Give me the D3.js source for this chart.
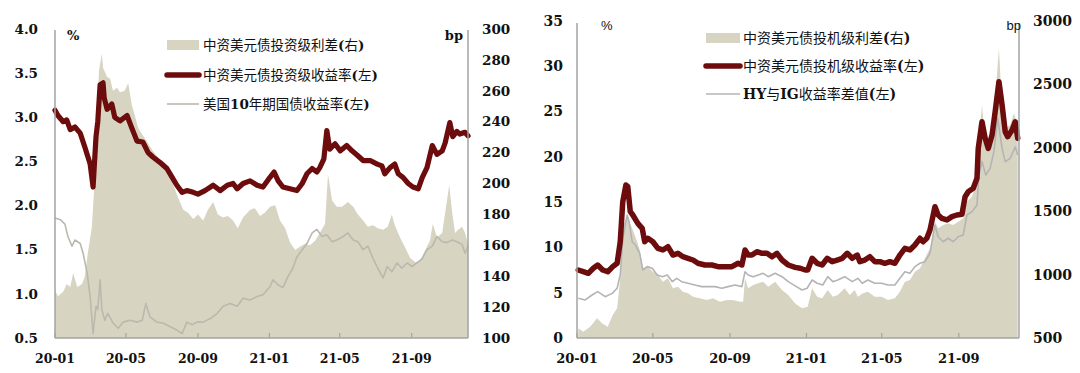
<!DOCTYPE html>
<html>
<head>
<meta charset="utf-8">
<script src="https://cdn.jsdelivr.net/npm/d3@7"></script>
<style>
  body { margin: 0; background: #fff; }
  svg { display: block; }
</style>
</head>
<body>
<div id="chart"></div>
<script>
// ---- data: [date, value] ----
const dateStart = "2020-01-01", dateEnd = "2021-12-06";
const xTickDates = ["2020-01-01", "2020-05-01", "2020-09-01", "2021-01-01", "2021-05-01", "2021-09-01"];

// left panel
const igYieldTicks = [0.5, 1.0, 1.5, 2.0, 2.5, 3.0, 3.5, 4.0];
const igSpreadTicks = [100, 120, 140, 160, 180, 200, 220, 240, 260, 280, 300];
const igLegend = ["中资美元债投资级利差(右)", "中资美元债投资级收益率(左)", "美国10年期国债收益率(左)"];

const igSpread = [
  ["2020-01-01",131],["2020-01-06",127],["2020-01-15",130],["2020-01-21",135],["2020-01-27",133],
  ["2020-02-01",142],["2020-02-08",133],["2020-02-16",135],["2020-02-21",140],["2020-02-26",155],
  ["2020-03-04",172],["2020-03-08",198],["2020-03-13",241],["2020-03-16",273],["2020-03-21",284],
  ["2020-03-23",275],["2020-03-30",269],["2020-04-04",268],["2020-04-09",260],["2020-04-16",262],
  ["2020-04-21",259],["2020-04-29",260],["2020-05-05",265],["2020-05-11",251],["2020-05-17",243],
  ["2020-05-22",236],["2020-05-30",231],["2020-06-08",226],["2020-06-16",221],["2020-06-25",217],
  ["2020-07-03",213],["2020-07-12",206],["2020-07-20",200],["2020-07-29",191],["2020-08-07",183],
  ["2020-08-15",181],["2020-08-24",177],["2020-09-01",180],["2020-09-10",176],["2020-09-18",183],
  ["2020-09-27",188],["2020-10-05",180],["2020-10-14",178],["2020-10-22",179],["2020-10-31",176],
  ["2020-11-08",171],["2020-11-17",178],["2020-11-29",183],["2020-12-07",184],["2020-12-16",179],
  ["2020-12-24",181],["2021-01-02",185],["2021-01-11",186],["2021-01-19",176],["2021-01-28",171],
  ["2021-02-05",162],["2021-02-14",157],["2021-02-22",159],["2021-03-03",161],["2021-03-11",160],
  ["2021-03-20",163],["2021-03-28",168],["2021-04-06",174],["2021-04-11",206],["2021-04-18",189],
  ["2021-04-26",185],["2021-05-05",185],["2021-05-15",188],["2021-05-24",185],["2021-06-01",180],
  ["2021-06-10",176],["2021-06-18",172],["2021-06-27",173],["2021-07-05",171],["2021-07-14",170],
  ["2021-07-22",172],["2021-07-29",180],["2021-08-03",173],["2021-08-12",165],["2021-08-20",159],
  ["2021-08-29",152],["2021-09-07",149],["2021-09-15",150],["2021-09-24",157],["2021-10-02",163],
  ["2021-10-07",174],["2021-10-14",165],["2021-10-23",168],["2021-10-28",181],["2021-11-04",199],
  ["2021-11-09",181],["2021-11-14",168],["2021-11-19",170],["2021-11-26",172],["2021-12-01",168],
  ["2021-12-06",161]
];

const igYield = [
  ["2020-01-01",3.08],["2020-01-06",3.02],["2020-01-15",2.95],["2020-01-21",2.97],["2020-01-27",2.86],
  ["2020-02-04",2.89],["2020-02-13",2.82],["2020-02-21",2.66],["2020-03-01",2.47],["2020-03-06",2.21],
  ["2020-03-11",2.78],["2020-03-14",2.95],["2020-03-18",3.37],["2020-03-23",3.39],["2020-03-25",3.22],
  ["2020-03-30",3.09],["2020-04-07",3.15],["2020-04-12",3.00],["2020-04-21",2.96],["2020-05-03",3.02],
  ["2020-05-11",2.88],["2020-05-20",2.73],["2020-05-30",2.72],["2020-06-08",2.60],["2020-06-16",2.55],
  ["2020-06-28",2.49],["2020-07-10",2.42],["2020-07-19",2.32],["2020-07-27",2.23],["2020-08-05",2.15],
  ["2020-08-13",2.17],["2020-08-24",2.15],["2020-09-01",2.13],["2020-09-13",2.17],["2020-09-27",2.23],
  ["2020-10-09",2.17],["2020-10-21",2.23],["2020-10-31",2.25],["2020-11-07",2.19],["2020-11-17",2.25],
  ["2020-11-29",2.28],["2020-12-11",2.23],["2020-12-21",2.21],["2021-01-02",2.32],["2021-01-09",2.38],
  ["2021-01-16",2.28],["2021-01-24",2.21],["2021-02-05",2.19],["2021-02-17",2.17],["2021-02-26",2.25],
  ["2021-03-06",2.36],["2021-03-15",2.42],["2021-03-23",2.38],["2021-03-28",2.43],["2021-04-04",2.53],
  ["2021-04-09",2.85],["2021-04-14",2.64],["2021-04-23",2.70],["2021-05-02",2.62],["2021-05-13",2.68],
  ["2021-05-22",2.62],["2021-05-31",2.57],["2021-06-10",2.51],["2021-06-22",2.51],["2021-07-04",2.47],
  ["2021-07-12",2.45],["2021-07-17",2.36],["2021-07-26",2.43],["2021-08-03",2.47],["2021-08-09",2.36],
  ["2021-08-17",2.32],["2021-08-26",2.25],["2021-09-03",2.21],["2021-09-12",2.19],["2021-09-19",2.32],
  ["2021-09-27",2.43],["2021-10-06",2.68],["2021-10-14",2.58],["2021-10-23",2.62],["2021-10-28",2.71],
  ["2021-11-05",2.94],["2021-11-10",2.78],["2021-11-17",2.84],["2021-11-22",2.81],["2021-12-01",2.83],
  ["2021-12-06",2.79]
];

const us10y = [
  ["2020-01-01",1.86],["2020-01-10",1.84],["2020-01-18",1.79],["2020-01-23",1.65],["2020-01-30",1.54],
  ["2020-02-04",1.61],["2020-02-13",1.57],["2020-02-18",1.46],["2020-02-25",1.23],["2020-03-01",0.97],
  ["2020-03-06",0.55],["2020-03-11",0.86],["2020-03-14",0.82],["2020-03-18",1.16],["2020-03-21",0.82],
  ["2020-03-26",0.70],["2020-03-31",0.78],["2020-04-09",0.67],["2020-04-18",0.61],["2020-04-26",0.68],
  ["2020-05-08",0.70],["2020-05-20",0.68],["2020-05-29",0.70],["2020-06-04",0.89],["2020-06-11",0.74],
  ["2020-06-23",0.68],["2020-07-03",0.67],["2020-07-15",0.63],["2020-07-27",0.59],["2020-08-05",0.55],
  ["2020-08-13",0.68],["2020-08-22",0.65],["2020-08-30",0.68],["2020-09-10",0.68],["2020-09-22",0.72],
  ["2020-10-04",0.78],["2020-10-14",0.86],["2020-10-26",0.89],["2020-11-07",0.86],["2020-11-17",0.95],
  ["2020-11-29",0.93],["2020-12-11",0.97],["2020-12-21",0.99],["2021-01-02",1.08],["2021-01-07",1.16],
  ["2021-01-16",1.10],["2021-01-24",1.07],["2021-02-02",1.20],["2021-02-10",1.29],["2021-02-17",1.42],
  ["2021-02-26",1.50],["2021-03-06",1.57],["2021-03-15",1.69],["2021-03-23",1.73],["2021-04-01",1.65],
  ["2021-04-09",1.67],["2021-04-18",1.59],["2021-04-26",1.61],["2021-05-07",1.65],["2021-05-15",1.69],
  ["2021-05-24",1.61],["2021-06-01",1.59],["2021-06-10",1.50],["2021-06-18",1.54],["2021-06-27",1.40],
  ["2021-07-05",1.29],["2021-07-14",1.18],["2021-07-21",1.31],["2021-07-29",1.25],["2021-08-07",1.35],
  ["2021-08-15",1.29],["2021-08-24",1.35],["2021-09-01",1.31],["2021-09-10",1.35],["2021-09-19",1.40],
  ["2021-09-27",1.50],["2021-10-06",1.54],["2021-10-14",1.65],["2021-10-23",1.59],["2021-10-31",1.58],
  ["2021-11-09",1.61],["2021-11-17",1.59],["2021-11-26",1.56],["2021-12-01",1.46],["2021-12-06",1.54]
];

// right panel
const hyYieldTicks = [0, 5, 10, 15, 20, 25, 30, 35];
const hySpreadTicks = [500, 1000, 1500, 2000, 2500, 3000];
const hyLegend = ["中资美元债投机级利差(右)", "中资美元债投机级收益率(左)", "HY与IG收益率差值(左)"];

const hySpread = [
  ["2020-01-03",576],["2020-01-11",550],["2020-01-22",589],["2020-02-02",655],["2020-02-10",616],
  ["2020-02-19",589],["2020-02-27",681],["2020-03-05",734],["2020-03-10",971],["2020-03-14",1365],
  ["2020-03-21",1470],["2020-03-24",1417],["2020-03-29",1365],["2020-04-06",1259],["2020-04-10",1194],
  ["2020-04-15",1050],["2020-04-23",1062],["2020-05-01",1023],["2020-05-09",997],["2020-05-17",944],
  ["2020-05-25",971],["2020-06-02",892],["2020-06-10",905],["2020-06-18",865],["2020-06-26",852],
  ["2020-07-04",826],["2020-07-15",813],["2020-07-26",800],["2020-08-05",813],["2020-08-16",786],
  ["2020-08-27",800],["2020-09-06",800],["2020-09-17",786],["2020-09-22",786],["2020-09-25",971],
  ["2020-09-30",892],["2020-10-08",918],["2020-10-16",931],["2020-10-24",944],["2020-11-01",905],
  ["2020-11-12",944],["2020-11-23",878],["2020-12-03",839],["2020-12-14",773],["2020-12-25",734],
  ["2021-01-03",747],["2021-01-10",892],["2021-01-18",826],["2021-01-26",813],["2021-02-04",878],
  ["2021-02-12",826],["2021-02-20",839],["2021-03-03",892],["2021-03-11",839],["2021-03-19",878],
  ["2021-03-24",826],["2021-04-01",852],["2021-04-09",865],["2021-04-20",826],["2021-05-01",826],
  ["2021-05-11",800],["2021-05-22",813],["2021-05-30",865],["2021-06-07",944],["2021-06-15",957],
  ["2021-06-23",1023],["2021-07-01",1050],["2021-07-09",1128],["2021-07-17",1207],["2021-07-25",1417],
  ["2021-07-30",1365],["2021-08-07",1391],["2021-08-15",1404],["2021-08-23",1391],["2021-08-31",1417],
  ["2021-09-08",1444],["2021-09-14",1575],["2021-09-22",1614],["2021-09-30",1733],["2021-10-03",2048],
  ["2021-10-08",2337],["2021-10-14",1996],["2021-10-21",2048],["2021-10-27",2259],["2021-11-04",2785],
  ["2021-11-09",2311],["2021-11-15",2154],["2021-11-22",2180],["2021-11-28",2272],["2021-12-04",2180]
];

const hyYield = [
  ["2020-01-03",7.51],["2020-01-11",7.32],["2020-01-19",7.14],["2020-01-27",7.70],["2020-02-03",8.06],
  ["2020-02-11",7.51],["2020-02-19",7.32],["2020-02-27",7.88],["2020-03-05",8.25],["2020-03-10",10.63],
  ["2020-03-14",15.05],["2020-03-19",16.89],["2020-03-22",16.71],["2020-03-26",13.95],["2020-03-30",13.58],
  ["2020-04-07",12.66],["2020-04-14",12.11],["2020-04-18",10.63],["2020-04-23",11.01],["2020-05-01",10.63],
  ["2020-05-09",9.90],["2020-05-17",9.72],["2020-05-25",10.08],["2020-06-02",9.16],["2020-06-10",9.35],
  ["2020-06-18",8.98],["2020-06-26",8.80],["2020-07-04",8.61],["2020-07-12",8.25],["2020-07-23",8.06],
  ["2020-08-03",8.06],["2020-08-13",7.88],["2020-08-24",7.88],["2020-09-04",7.88],["2020-09-14",8.25],
  ["2020-09-20",8.06],["2020-09-25",9.72],["2020-09-30",9.16],["2020-10-06",9.16],["2020-10-14",9.53],
  ["2020-10-22",9.35],["2020-10-30",9.35],["2020-11-07",8.98],["2020-11-15",9.35],["2020-11-23",8.61],
  ["2020-12-03",8.06],["2020-12-14",7.80],["2020-12-22",7.70],["2020-12-30",7.51],["2021-01-03",7.51],
  ["2021-01-10",8.80],["2021-01-18",8.25],["2021-01-26",8.06],["2021-02-03",8.80],["2021-02-11",8.43],
  ["2021-02-19",8.61],["2021-02-27",8.80],["2021-03-07",9.35],["2021-03-15",8.80],["2021-03-23",9.16],
  ["2021-03-27",8.43],["2021-04-04",8.61],["2021-04-12",8.98],["2021-04-20",8.43],["2021-04-28",8.43],
  ["2021-05-06",8.25],["2021-05-14",8.43],["2021-05-22",8.25],["2021-05-30",9.16],["2021-06-07",9.90],
  ["2021-06-15",9.72],["2021-06-23",10.27],["2021-07-01",11.01],["2021-07-06",10.63],["2021-07-12",11.01],
  ["2021-07-17",11.92],["2021-07-25",14.50],["2021-07-30",13.58],["2021-08-05",13.21],["2021-08-13",13.03],
  ["2021-08-21",13.40],["2021-08-29",13.58],["2021-09-06",13.66],["2021-09-11",15.60],["2021-09-16",16.15],
  ["2021-09-24",16.53],["2021-09-30",17.63],["2021-10-02",20.94],["2021-10-08",23.88],["2021-10-13",22.05],
  ["2021-10-18",20.94],["2021-10-24",22.41],["2021-10-29",24.99],["2021-11-04",28.30],["2021-11-09",25.73],
  ["2021-11-14",22.78],["2021-11-18",22.23],["2021-11-25",22.97],["2021-11-30",23.88],["2021-12-04",22.05]
];

const hyIgGap = [
  ["2020-01-03",4.38],["2020-01-14",4.20],["2020-01-25",4.75],["2020-02-03",5.12],["2020-02-15",4.56],
  ["2020-02-26",4.93],["2020-03-05",5.49],["2020-03-10",6.96],["2020-03-14",11.00],["2020-03-21",13.58],
  ["2020-03-24",12.84],["2020-03-29",10.63],["2020-04-03",10.27],["2020-04-10",9.35],["2020-04-15",7.51],
  ["2020-04-22",7.88],["2020-04-30",7.70],["2020-05-08",6.96],["2020-05-16",6.77],["2020-05-24",6.96],
  ["2020-06-01",6.22],["2020-06-08",6.59],["2020-06-16",6.22],["2020-06-26",6.04],["2020-07-07",5.85],
  ["2020-07-18",5.67],["2020-07-28",5.67],["2020-08-08",5.67],["2020-08-19",5.49],["2020-08-29",5.67],
  ["2020-09-09",5.85],["2020-09-20",5.67],["2020-09-25",7.32],["2020-09-30",6.96],["2020-10-08",6.77],
  ["2020-10-16",6.96],["2020-10-24",7.14],["2020-11-01",6.77],["2020-11-12",7.14],["2020-11-23",6.77],
  ["2020-12-03",6.22],["2020-12-14",5.76],["2020-12-25",5.30],["2021-01-02",5.49],["2021-01-10",6.40],
  ["2021-01-18",6.04],["2021-01-27",5.85],["2021-02-04",6.77],["2021-02-12",6.22],["2021-02-20",6.40],
  ["2021-03-03",6.77],["2021-03-15",6.22],["2021-03-24",6.59],["2021-03-31",6.04],["2021-04-09",6.40],
  ["2021-04-20",6.04],["2021-05-01",6.04],["2021-05-11",5.85],["2021-05-22",5.85],["2021-05-30",6.59],
  ["2021-06-07",7.32],["2021-06-15",7.14],["2021-06-23",7.88],["2021-07-01",8.25],["2021-07-09",8.43],
  ["2021-07-17",9.35],["2021-07-25",12.48],["2021-07-30",11.18],["2021-08-07",10.63],["2021-08-15",11.01],
  ["2021-08-23",10.63],["2021-08-31",11.18],["2021-09-08",11.37],["2021-09-14",13.58],["2021-09-22",13.95],
  ["2021-09-30",14.68],["2021-10-03",18.00],["2021-10-08",19.47],["2021-10-14",18.00],["2021-10-21",18.74],
  ["2021-10-27",20.57],["2021-11-02",24.26],["2021-11-09",20.94],["2021-11-14",19.47],["2021-11-22",19.84],
  ["2021-11-30",21.12],["2021-12-04",20.20]
];

// ---- drawing ----
const W = 1080, H = 373;
const parse = d3.timeParse("%Y-%m-%d");
const fmtTick = d3.timeFormat("%y-%m");
const FILL = "#d8d4c2", RED = "#6c0c0c", AXIS = "#a3a3a3";
const SERIF = "'DejaVu Serif', serif";
const CJK = "'Noto Sans CJK SC', 'Noto Sans', sans-serif";

const svg = d3.select("#chart").append("svg")
  .attr("width", W).attr("height", H)
  .style("background", "#fff");

// mixed text: ascii runs bold serif, cjk runs sans regular
function mixedText(sel, str) {
  const runs = str.match(/[\x00-\x7f]+|[^\x00-\x7f]+/g);
  runs.forEach(r => {
    const ascii = /^[\x00-\x7f]+$/.test(r);
    sel.append("tspan")
      .attr("font-family", ascii ? SERIF : CJK)
      .attr("font-weight", ascii ? "bold" : "normal")
      .text(r);
  });
}

function drawPanel(p) {
  const g = svg.append("g");
  const x = d3.scaleTime().domain([parse(dateStart), parse(dateEnd)]).range(p.xRange);
  const yL = d3.scaleLinear().domain(d3.extent(p.leftTicks)).range([p.bottom, p.top]);
  const yR = d3.scaleLinear().domain(d3.extent(p.rightTicks)).range([p.bottom, p.top]);

  // spread area (right axis)
  const area = d3.area()
    .x(d => x(parse(d[0])))
    .y0(yR(yR.domain()[0]))
    .y1(d => yR(d[1]));
  g.append("path").datum(p.spread)
    .attr("d", area).attr("fill", FILL);

  const line = d3.line().x(d => x(parse(d[0]))).y(d => yL(d[1]));
  g.append("path").datum(p.thin)
    .attr("d", line).attr("fill", "none")
    .attr("stroke", p.thinColor).attr("stroke-width", 1.6)
    .attr("stroke-linejoin", "round");
  g.append("path").datum(p.thick)
    .attr("d", line).attr("fill", "none")
    .attr("stroke", RED).attr("stroke-width", p.thickWidth)
    .attr("stroke-linejoin", "round").attr("stroke-linecap", "round");

  // axis lines
  const [x0, x1] = p.xRange;
  g.append("line").attr("x1", x0).attr("x2", x0).attr("y1", p.axisTop).attr("y2", p.bottom)
    .attr("stroke", AXIS).attr("stroke-width", 1.5);
  g.append("line").attr("x1", x1).attr("x2", x1).attr("y1", p.axisTop).attr("y2", p.bottom)
    .attr("stroke", AXIS).attr("stroke-width", 1.5);
  g.append("line").attr("x1", x0).attr("x2", x1).attr("y1", p.bottom).attr("y2", p.bottom)
    .attr("stroke", AXIS).attr("stroke-width", 1.5);

  // x ticks + labels
  const ticks = xTickDates.map(parse);
  g.selectAll(".xt").data(ticks).join("line")
    .attr("x1", d => x(d)).attr("x2", d => x(d))
    .attr("y1", p.bottom).attr("y2", p.bottom - 5)
    .attr("stroke", AXIS).attr("stroke-width", 1.2);
  g.selectAll(".xl").data(ticks).join("text")
    .attr("x", d => x(d)).attr("y", 363)
    .attr("text-anchor", "middle")
    .attr("font-family", SERIF).attr("font-weight", "bold")
    .attr("font-size", p.xFont).attr("fill", "#111")
    .text(d => fmtTick(d));

  // y labels
  g.selectAll(".yl").data(p.leftTicks).join("text")
    .attr("x", p.leftLabelX).attr("y", d => yL(d))
    .attr("dy", "0.35em").attr("text-anchor", "end")
    .attr("font-family", SERIF).attr("font-weight", "bold")
    .attr("font-size", p.yFont).attr("fill", "#111")
    .text(d => p.leftFmt(d));
  g.selectAll(".yr").data(p.rightTicks).join("text")
    .attr("x", p.rightLabelX).attr("y", d => yR(d))
    .attr("dy", "0.35em").attr("text-anchor", "start")
    .attr("font-family", SERIF).attr("font-weight", "bold")
    .attr("font-size", p.yFont).attr("fill", "#111")
    .text(d => d);

  // unit labels
  g.append("text").attr("x", p.pctX).attr("y", p.unitY)
    .attr("font-family", p.unitFont).attr("font-weight", p.unitWeight)
    .attr("font-size", 13).attr("fill", "#111").text("%");
  g.append("text").attr("x", p.bpX).attr("y", p.unitY)
    .attr("text-anchor", "end")
    .attr("font-family", p.unitFont).attr("font-weight", p.unitWeight)
    .attr("font-size", 13).attr("fill", "#111").text("bp");

  // legend
  const lg = g.append("g");
  const [sx0, sx1] = p.swatchX;
  lg.append("rect").attr("x", sx0).attr("y", p.legendY[0] - 5)
    .attr("width", sx1 - sx0).attr("height", 10).attr("fill", FILL);
  lg.append("line").attr("x1", sx0).attr("x2", sx1)
    .attr("y1", p.legendY[1]).attr("y2", p.legendY[1])
    .attr("stroke", RED).attr("stroke-width", 5.5).attr("stroke-linecap", "round");
  lg.append("line").attr("x1", sx0).attr("x2", sx1)
    .attr("y1", p.legendY[2]).attr("y2", p.legendY[2])
    .attr("stroke", p.thinColor).attr("stroke-width", 1.6);
  p.legend.forEach((label, i) => {
    const t = lg.append("text")
      .attr("x", p.legendTextX).attr("y", p.legendY[i])
      .attr("dy", "0.36em")
      .attr("font-size", p.legendFont).attr("fill", "#111");
    mixedText(t, label);
  });
}

drawPanel({
  xRange: [55, 468], top: 29, bottom: 338, axisTop: 30,
  leftTicks: igYieldTicks, rightTicks: igSpreadTicks,
  leftFmt: d3.format(".1f"),
  spread: igSpread, thick: igYield, thin: us10y,
  thinColor: "#bbb8ad", thickWidth: 5.2,
  leftLabelX: 38, rightLabelX: 482,
  yFont: 13.5, xFont: 12.5,
  pctX: 67, bpX: 463, unitY: 40, unitFont: SERIF, unitWeight: "bold",
  swatchX: [167, 199], legendY: [45, 75, 104], legendTextX: 203, legendFont: 13.5,
  legend: igLegend
});

drawPanel({
  xRange: [577, 1019], top: 21, bottom: 338, axisTop: 23,
  leftTicks: hyYieldTicks, rightTicks: hySpreadTicks,
  leftFmt: d3.format("d"),
  spread: hySpread, thick: hyYield, thin: hyIgGap,
  thinColor: "#b4b4b4", thickWidth: 5.5,
  leftLabelX: 563, rightLabelX: 1033,
  yFont: 14, xFont: 13,
  pctX: 601, bpX: 1021, unitY: 30, unitFont: "'Liberation Sans', Arial, sans-serif", unitWeight: "normal",
  swatchX: [706, 740], legendY: [38, 66, 94], legendTextX: 743, legendFont: 14,
  legend: hyLegend
});
</script>
</body>
</html>
